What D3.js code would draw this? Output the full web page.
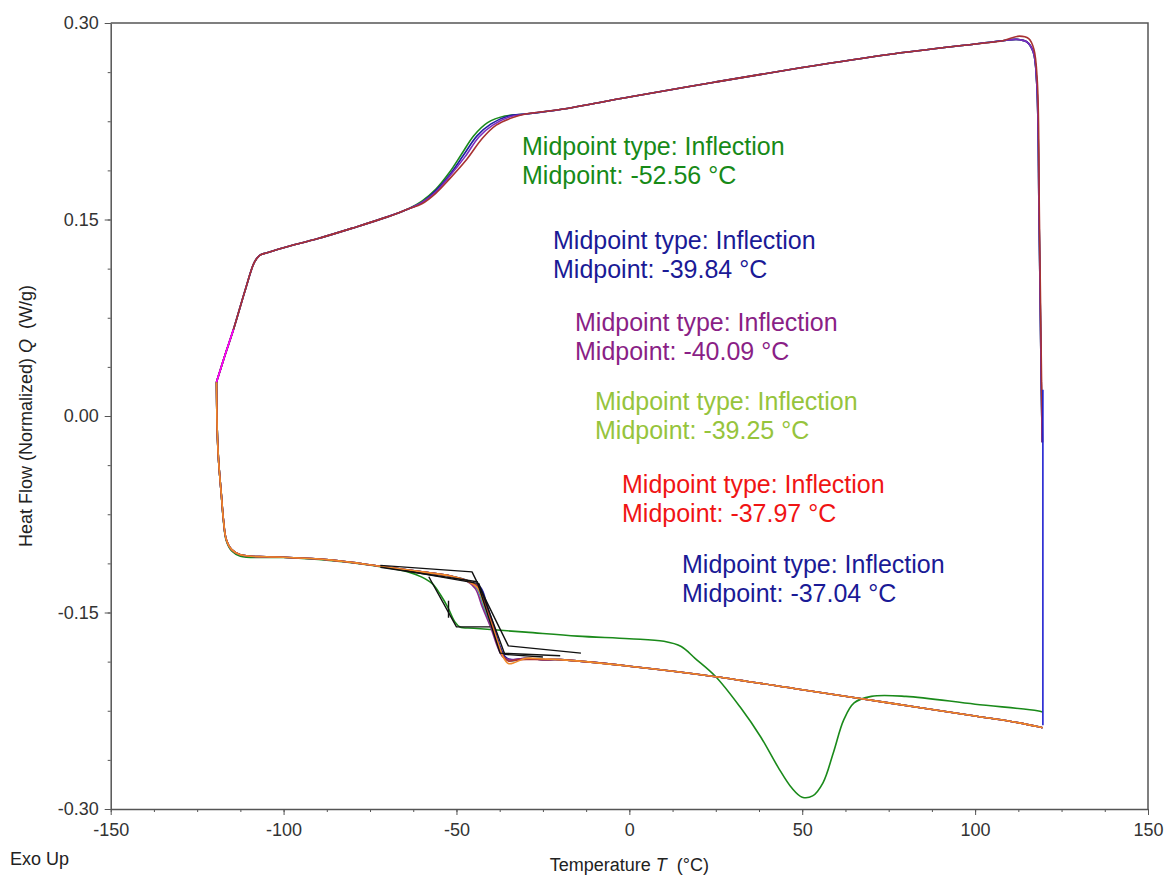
<!DOCTYPE html>
<html>
<head>
<meta charset="utf-8">
<script src="https://cdn.jsdelivr.net/npm/d3@7"></script>
<style>
  body { margin: 0; background: #fff; }
  svg { font-family: "Liberation Sans", Arial, sans-serif; }
  .tick text { fill: #333; font-size: 18px; }
  .tick line, .domain { stroke: #555; }
  .label { font-size: 18px; fill: #222; white-space: pre; }
  .note { font-size: 25px; }
</style>
</head>
<body>
<svg width="1168" height="879"></svg>
<script>
// tick values
var xTicks = [-150, -100, -50, 0, 50, 100, 150];
var yTicks = [-0.30, -0.15, 0.00, 0.15, 0.30];

// upper branch (cooling), shared parts
var coolLeft = [[-119.4,0.026],[-117,0.046],[-114.5,0.066],[-111,0.097],[-108.5,0.117],[-107,0.1225],[-105,0.1245],[-100,0.1285],[-90,0.1355],[-80,0.1435],[-70,0.152],[-64,0.158]];
var coolMid = [[-30,0.2305],[-20,0.234],[0,0.2435],[25,0.255],[50,0.266],[75,0.276],[100,0.284],[108,0.2865]];
var coolCornerA = [[112,0.2875],[115,0.2855],[116.8,0.278],[117.8,0.255],[118.5,0.15],[119.1,0.03],[119.4,-0.02]];
var coolCornerB = [[112.8,0.290],[115.5,0.288],[117,0.280],[118,0.255],[118.6,0.15],[119.2,0.03],[119.5,-0.02]];

// upper branch, glass transition per run
var coolStepGreen  = [[-60,0.164],[-56,0.173],[-52,0.186],[-48.5,0.200],[-45,0.214],[-41,0.224],[-36,0.229]];
var coolStepBlue   = [[-60,0.163],[-56,0.172],[-52,0.184],[-48,0.199],[-44,0.214],[-40,0.223],[-35,0.229]];
var coolStepPurple = [[-60,0.163],[-56,0.171],[-52,0.183],[-47.5,0.198],[-43.5,0.213],[-39.5,0.222],[-34.5,0.2285]];
var coolStepRed    = [[-60,0.162],[-56,0.170],[-52,0.181],[-47,0.196],[-42.5,0.212],[-38.5,0.222],[-33.5,0.228]];

// lower branch (heating), shared parts
var heatLeft = [[-119.4,0.026],[-119.2,-0.01],[-118.8,-0.034],[-118,-0.06],[-117.4,-0.079],[-116.6,-0.094],[-115,-0.102],[-112.5,-0.106],[-105,-0.1075],[-100,-0.1078],[-86,-0.110],[-72,-0.1147],[-60,-0.119],[-52,-0.122]];
var heatRight = [[-20,-0.186],[0,-0.191],[25,-0.199],[50,-0.209],[75,-0.219],[100,-0.229],[110,-0.233],[118,-0.237],[119.5,-0.238]];

// lower branch, glass transition per run
var heatStepOrange = [[-47,-0.126],[-44,-0.131],[-42,-0.144],[-40,-0.158],[-38,-0.173],[-36.5,-0.184],[-35,-0.189],[-33,-0.188],[-30,-0.185],[-25,-0.1855]];
var heatStepRed    = [[-46.5,-0.126],[-43.5,-0.131],[-41.5,-0.145],[-39.5,-0.160],[-37.8,-0.175],[-36.3,-0.184],[-35,-0.187],[-32,-0.186],[-25,-0.186]];
var heatStepNavy   = [[-46,-0.127],[-43,-0.131],[-41,-0.146],[-39,-0.162],[-37.2,-0.177],[-35.8,-0.184],[-34,-0.186],[-30,-0.185],[-25,-0.186]];
var heatStepPurple = [[-47,-0.126],[-44.5,-0.132],[-42.5,-0.146],[-40,-0.162],[-38,-0.177],[-36.5,-0.184],[-34.5,-0.186],[-30,-0.185],[-25,-0.186]];
var heatStepTeal   = [[-46.5,-0.126],[-44,-0.132],[-42,-0.147],[-39.5,-0.163],[-37.5,-0.178],[-36,-0.185],[-34.5,-0.187],[-30,-0.185],[-25,-0.186]];

// the green run: early Tg and melting peak near 50 C
var heatGreen = [[-119.4,0.026],[-119.2,-0.01],[-118.8,-0.034],[-118,-0.06],[-117.4,-0.08],[-116.6,-0.095],[-115,-0.103],[-112.5,-0.107],[-105,-0.108],[-100,-0.108],[-86,-0.1105],[-72,-0.115],[-64,-0.119],[-60,-0.123],[-57,-0.128],[-54.5,-0.137],[-52.5,-0.146],[-50.5,-0.157],[-49,-0.161],[-45,-0.162],[-30,-0.165],[-15,-0.168],[0,-0.170],[10,-0.172],[15,-0.176],[19,-0.185],[25,-0.199],[32,-0.222],[38,-0.245],[43,-0.268],[47,-0.284],[50,-0.291],[53,-0.290],[56,-0.280],[59,-0.257],[62,-0.232],[65,-0.219],[70,-0.214],[80,-0.214],[100,-0.220],[118,-0.225],[119.5,-0.226]];

// tangent construction lines (black, straight)
var tangents = [
  [[-72,-0.114],[-45.5,-0.119],[-35,-0.1755],[-14,-0.181]],
  [[-72,-0.1155],[-44,-0.1265],[-37.4,-0.181],[-20,-0.183]],
  [[-65,-0.118],[-43.5,-0.128],[-36,-0.182],[-25,-0.184]],
  [[-58,-0.1227],[-50,-0.161],[-40.3,-0.161]],
  [[-52.3,-0.141],[-52.3,-0.154]]
];
var rightEdge = [[119.6,0.02],[119.6,-0.236]];

// annotations
var noteLines = [
  ["Midpoint type: Inflection", "Midpoint: -52.56 °C", "#178a17", 522, 155],
  ["Midpoint type: Inflection", "Midpoint: -39.84 °C", "#1a1a96", 553, 249],
  ["Midpoint type: Inflection", "Midpoint: -40.09 °C", "#8a1f86", 575, 331],
  ["Midpoint type: Inflection", "Midpoint: -39.25 °C", "#96c43c", 595, 410],
  ["Midpoint type: Inflection", "Midpoint: -37.97 °C", "#f01414", 622, 493],
  ["Midpoint type: Inflection", "Midpoint: -37.04 °C", "#1a1a96", 682, 573]
];

const svg = d3.select('svg');
const plotL = 110.7, plotR = 1148, plotT = 23, plotB = 809;

const xScale = d3.scaleLinear().domain([-150, 150]).range([plotL, plotR]);
const yScale = d3.scaleLinear().domain([-0.30, 0.30]).range([plotB, plotT]);

// minor ticks
svg.append('g')
  .attr('transform', `translate(0, ${plotB})`)
  .call(d3.axisBottom(xScale).tickValues(d3.range(-150, 150.1, 12.5)).tickSize(3).tickFormat(''))
  .call(g => g.select('.domain').remove());
svg.append('g')
  .attr('transform', `translate(${plotL}, 0)`)
  .call(d3.axisLeft(yScale).tickValues(d3.range(-0.30, 0.301, 0.0375)).tickSize(3).tickFormat(''))
  .call(g => g.select('.domain').remove());

// major ticks
svg.append('g')
  .attr('transform', `translate(0, ${plotB})`)
  .call(d3.axisBottom(xScale).tickValues(xTicks).tickSize(6).tickPadding(8).tickSizeOuter(0).tickFormat(d => String(d)))
  .selectAll('.domain').attr('stroke-width', 1.5);
svg.append('g')
  .attr('transform', `translate(${plotL}, 0)`)
  .call(d3.axisLeft(yScale).tickValues(yTicks).tickSize(6).tickPadding(6).tickSizeOuter(0).tickFormat(d => d.toFixed(2)))
  .selectAll('.domain').attr('stroke-width', 1.5);

// box top/right
svg.append('path')
  .attr('d', `M${plotL},${plotT}H${plotR}V${plotB}`)
  .attr('fill', 'none')
  .attr('stroke', '#555')
  .attr('stroke-width', 1.5);

const line = d3.line()
  .x(d => xScale(d[0]))
  .y(d => yScale(d[1]))
  .curve(d3.curveCatmullRom.alpha(0.5));

const straight = d3.line()
  .x(d => xScale(d[0]))
  .y(d => yScale(d[1]));

const plot = svg.append('g');

function draw(pts, color, w, gen) {
  plot.append('path')
    .attr('d', (gen || line)(pts))
    .attr('fill', 'none')
    .attr('stroke', color)
    .attr('stroke-width', w || 1.6)
    .attr('stroke-linejoin', 'round');
}

// heating branch first
draw(heatGreen, '#1a8a1a');
draw(heatLeft.concat(heatStepTeal, heatRight), '#2aa6b5');
draw(heatLeft.concat(heatStepNavy, heatRight), '#1f1fa0');
draw(heatLeft.concat(heatStepPurple, heatRight), '#8b2b8b');
draw(heatLeft.concat(heatStepRed, heatRight), '#b03030');
draw(heatLeft.concat(heatStepOrange, heatRight), '#f08a2a');

// cooling branch
draw(coolLeft.concat(coolStepGreen, coolMid, coolCornerA), '#1a8a1a');
draw(coolLeft.concat(coolStepBlue, coolMid, coolCornerA), '#1f1fa0');
draw(coolLeft.concat(coolStepPurple, coolMid, coolCornerA), '#7b2bc0');
draw(coolLeft.concat(coolStepRed, coolMid, coolCornerB), '#a83232');
draw(coolLeft.slice(0, 3), '#ff00ff');

tangents.forEach(t => draw(t, '#111', 1.4, straight));
draw(rightEdge, '#1f1fd0', 1.6, straight);

// annotations
noteLines.forEach(n => {
  const t = svg.append('text')
    .attr('class', 'note')
    .attr('fill', n[2]);
  t.append('tspan').attr('x', n[3]).attr('y', n[4]).text(n[0]);
  t.append('tspan').attr('x', n[3]).attr('y', n[4] + 29).text(n[1]);
});

// axis titles
const xl = svg.append('text')
  .attr('class', 'label')
  .attr('x', (plotL + plotR) / 2)
  .attr('y', 871)
  .attr('text-anchor', 'middle');
xl.append('tspan').text('Temperature ');
xl.append('tspan').attr('font-style', 'italic').text('T');
xl.append('tspan').text('  (°C)');

const yl = svg.append('text')
  .attr('class', 'label')
  .attr('transform', `translate(32, ${(plotT + plotB) / 2}) rotate(-90)`)
  .attr('text-anchor', 'middle');
yl.append('tspan').text('Heat Flow (Normalized) ');
yl.append('tspan').attr('font-style', 'italic').text('Q');
yl.append('tspan').text('  (W/g)');

svg.append('text')
  .attr('class', 'label')
  .attr('x', 10)
  .attr('y', 865)
  .text('Exo Up');
</script>
</body>
</html>
